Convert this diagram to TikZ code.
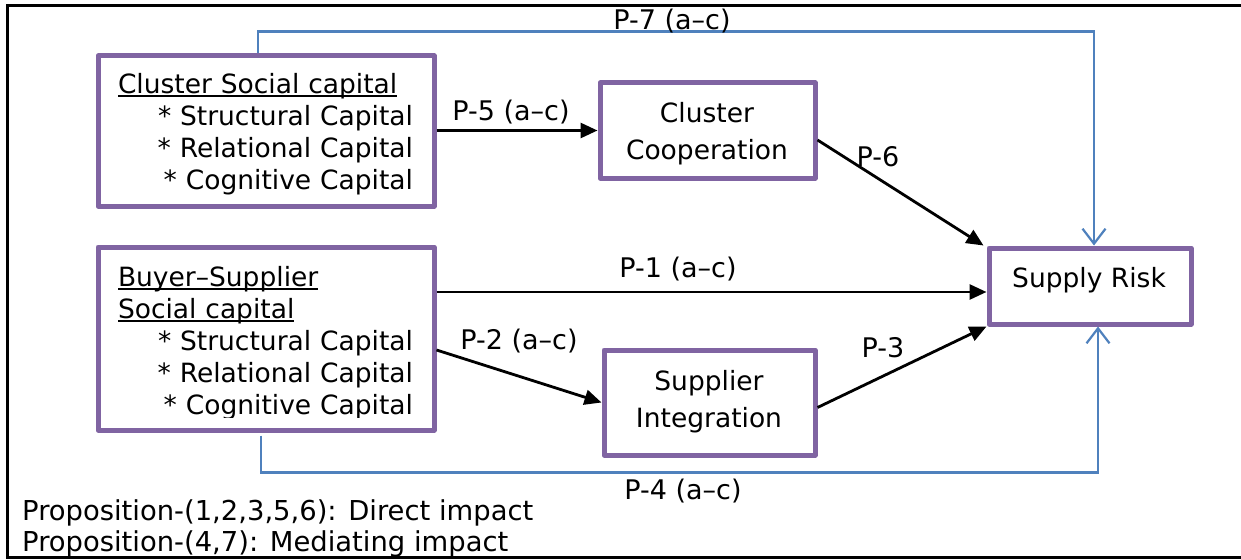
\documentclass[tikz,border=0pt]{standalone}
\usepackage{fontspec}
\setmainfont{DejaVu Sans}
\usetikzlibrary{arrows.meta}
\definecolor{boxpurple}{HTML}{8064A2}
\definecolor{linkblue}{HTML}{4F81BD}
\newcommand\myul[1]{\leavevmode\setbox0\hbox{#1}\rlap{\rule[-3.5pt]{\wd0}{1.6pt}}\box0}
\begin{document}
\begin{tikzpicture}[x=1pt,y=-1pt,
  boxnode/.style={draw=boxpurple,line width=5pt,rectangle,line join=round,inner sep=0pt},
  txt/.style={inner sep=0pt,font=\fontsize{26.5}{32}\selectfont},
  smalltxt/.style={inner sep=0pt,align=center,font=\fontsize{26.5}{37}\selectfont},
  lbl/.style={inner sep=0pt,font=\fontsize{27}{32}\selectfont},
  legtxt/.style={inner sep=0pt,font=\fontsize{27.4}{32}\selectfont},
  arr/.style={draw=black,line width=2.8pt,-{Triangle[length=17pt,width=15pt]}},
  barr/.style={draw=linkblue,line width=2.2pt,-{Straight Barb[length=15pt,width=23pt,line width=2.2pt]}}]
\useasboundingbox (0,0) rectangle (1241,559);
\fill[white] (0,0) rectangle (1241,559);
% outer frame
\draw[line width=3pt] (1241,5.5) -- (7.5,5.5) -- (7.5,557) -- (1241,557);

% boxes
\node[boxnode,minimum width=336pt,minimum height=150pt] (csc) at (266,131) {};
\node[boxnode,minimum width=336pt,minimum height=183pt] (bsc) at (266,338.5) {};
\node[boxnode,minimum width=215pt,minimum height=95pt] (cc) at (707.5,130.5) {};
\node[boxnode,minimum width=211pt,minimum height=105pt] (si) at (709.5,402.5) {};
\node[boxnode,minimum width=202pt,minimum height=76pt] (sr) at (1090,286) {};

% box texts
\node[txt,text width=295pt,align=right] (csct) at (265.5,134.1)
  {\makebox[\linewidth][l]{\myul{Cluster Social capital}}\\
   {*} Structural Capital\\ {*} Relational Capital\\ {*} Cognitive Capital};
\begin{scope}
\clip (90,240) rectangle (440,417.5);
\node[txt,text width=295pt,align=right] (bsct) at (265.5,343.1)
  {\makebox[\linewidth][l]{\myul{Buyer–Supplier}}\\
   \makebox[\linewidth][l]{\myul{Social capital}}\\
   {*} Structural Capital\\ {*} Relational Capital\\ {*} Cognitive Capital};
\end{scope}
\node[smalltxt] (cct) at (707,133.6) {Cluster\\Cooperation};
\node[smalltxt] (sit) at (709,401.6) {Supplier\\Integration};
\node[txt] (srt) at (1089,280.1) {Supply Risk};

% black arrows
\coordinate (p1lev) at (0,292);
\draw[arr] (cc.west -| csc.east) -- (cc.west);
\draw[arr] ([yshift=-9.5pt]cc.east) -- ([xshift=-3pt]sr.north west);
\draw[arr] (bsc.east |- p1lev) -- (sr.west |- p1lev);
\draw[arr] ([yshift=-11.5pt]bsc.east) -- (si.west);
\draw[arr] ([yshift=-5pt]si.east) -- (sr.south west);

% blue mediating links
\draw[barr] ([xshift=-8pt]csc.north) -- ++(0,-22) -| ([xshift=4pt]sr.north);
\draw[barr] ([xshift=-5pt,yshift=-3pt]bsc.south) -- ++(0,37) -| ([xshift=8pt]sr.south);

% labels
\node[lbl] (l7) at (672,21) {P-7 (a–c)};
\node[lbl] (l5) at (511,112) {P-5 (a–c)};
\node[lbl] (l6) at (878,157) {P-6};
\node[lbl] (l1) at (678,269) {P-1 (a–c)};
\node[lbl] (l2) at (519,341) {P-2 (a–c)};
\node[lbl] (l3) at (883,348) {P-3};
\node[lbl] (l4) at (683,491) {P-4 (a–c)};

% legend
\begin{scope}
\clip (0,0) rectangle (1241,555.5);
\node[legtxt,anchor=base west] (leg1) at (22,520) {Proposition-(1,2,3,5,6): Direct impact};
\node[legtxt,anchor=base west] (leg2) at (22,551) {Proposition-(4,7): Mediating impact};
\end{scope}
\end{tikzpicture}
\end{document}
